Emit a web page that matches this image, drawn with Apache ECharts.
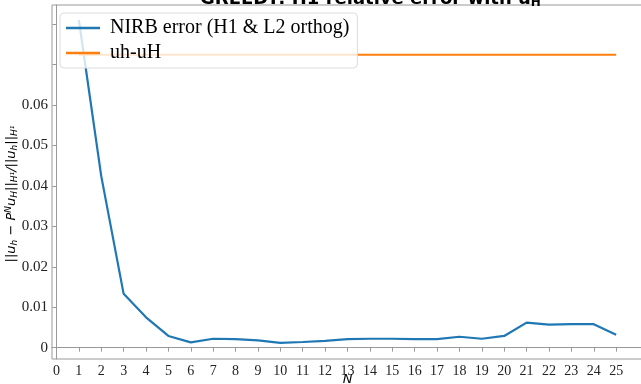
<!DOCTYPE html>
<html>
<head>
<meta charset="utf-8">
<script src="https://cdn.jsdelivr.net/npm/echarts@6/dist/echarts.min.js"></script>
<style>
html, body { margin: 0; padding: 0; background: #fff; }
#chart { width: 641px; height: 384px; }
</style>
</head>
<body>
<div id="chart"></div>
<script>
// basis size N
let nValues = [1, 2, 3, 4, 5, 6, 7, 8, 9, 10, 11, 12, 13, 14, 15, 16, 17, 18, 19, 20, 21, 22, 23, 24, 25];
// NIRB error (H1 & L2 orthog)
let nirbError = [0.0810, 0.0424, 0.0133, 0.0075, 0.0029, 0.0013, 0.0022, 0.0021, 0.0018, 0.0012,
                 0.0014, 0.0017, 0.0021, 0.0022, 0.0022, 0.0021, 0.0021, 0.0027, 0.0022, 0.0029,
                 0.0062, 0.0057, 0.0058, 0.0058, 0.0032];
// uh-uH reference error
let uhuH = [0.0724, 0.0724, 0.0724, 0.0724, 0.0724, 0.0724, 0.0724, 0.0724, 0.0724, 0.0724,
            0.0724, 0.0724, 0.0724, 0.0724, 0.0724, 0.0724, 0.0724, 0.0724, 0.0724, 0.0724,
            0.0724, 0.0724, 0.0724, 0.0724, 0.0724];
let xTicks = [0, 1, 2, 3, 4, 5, 6, 7, 8, 9, 10, 11, 12, 13, 14, 15, 16, 17, 18, 19, 20, 21, 22, 23, 24, 25];
let yTicks = [0, 0.01, 0.02, 0.03, 0.04, 0.05, 0.06, 0.07, 0.08];
let yLabels = [0, 0.01, 0.02, 0.03, 0.04, 0.05, 0.06];

let colors = ['#1f77b4', '#ff7f0e'];
let serif = 'Liberation Serif';

let myChart = echarts.init(document.getElementById('chart'));
let option = {
    animation: false,
    backgroundColor: '#fff',
    color: colors,
    title: {
        text: 'GREEDY: H1 relative error with u{s|H}',
        left: 200,
        top: -11,
        padding: 0,
        textStyle: {
            fontFamily: 'DejaVu Sans',
            fontWeight: 'bold',
            fontSize: 18,
            color: '#000',
            rich: {
                s: { fontFamily: 'DejaVu Sans', fontWeight: 'bold', fontSize: 12, padding: [8, 0, 0, 0], color: '#000' }
            }
        }
    },
    legend: {
        orient: 'vertical',
        left: 60,
        top: 13,
        padding: [5, 8, 5, 6],
        itemGap: 5,
        itemWidth: 34,
        itemHeight: 2.5,
        backgroundColor: 'rgba(255,255,255,0.8)',
        borderColor: '#dcdcdc',
        borderWidth: 1,
        borderRadius: 4,
        textStyle: { fontFamily: serif, fontSize: 20, color: '#000', padding: [0, 0, 0, 5] },
        data: [
            { name: 'NIRB error (H1 & L2 orthog)', icon: 'rect' },
            { name: 'uh-uH', icon: 'rect' }
        ]
    },
    grid: {
        left: 52,
        top: 5,
        width: 591,
        height: 354,
        containLabel: false,
        outerBoundsMode: 'none',
        show: true,
        borderColor: '#999',
        borderWidth: 1
    },
    xAxis: {
        type: 'value',
        min: -0.2,
        max: 26.2,
        name: 'N',
        nameLocation: 'middle',
        nameGap: 14,
        nameMoveOverlap: false,
        nameTextStyle: { fontFamily: 'DejaVu Sans', fontStyle: 'italic', fontSize: 13, color: '#000' },
        axisLine: { show: true, lineStyle: { color: '#999' } },
        axisTick: { show: true, length: 4, customValues: xTicks, lineStyle: { color: '#999' } },
        axisLabel: { customValues: xTicks, margin: 5, fontFamily: serif, fontSize: 14, color: '#222', hideOverlap: false },
        splitLine: { show: false }
    },
    yAxis: {
        type: 'value',
        min: -0.0028,
        max: 0.0847,
        name: '||u{s|h} − P{p|N}u{s|H}||{s|H¹}/||u{s|h}||{s|H¹}',
        nameLocation: 'middle',
        nameGap: 33,
        nameRotate: 90,
        nameMoveOverlap: false,
        nameTextStyle: {
            fontFamily: 'DejaVu Sans',
            fontStyle: 'italic',
            fontSize: 13,
            color: '#000',
            padding: [0, 24, 0, 0],
            rich: {
                s: { fontFamily: 'DejaVu Sans', fontStyle: 'italic', fontSize: 9, padding: [6, 0, 0, 0], color: '#000' },
                p: { fontFamily: 'DejaVu Sans', fontStyle: 'italic', fontSize: 9, padding: [0, 0, 6, 0], color: '#000' }
            }
        },
        axisLine: { show: true, lineStyle: { color: '#999' } },
        axisTick: { show: true, length: 4, customValues: yTicks, lineStyle: { color: '#999' } },
        axisLabel: { customValues: yLabels, margin: 4, fontFamily: serif, fontSize: 15, color: '#222' },
        splitLine: { show: false }
    },
    series: [
        {
            name: 'NIRB error (H1 & L2 orthog)',
            type: 'line',
            showSymbol: false,
            symbol: 'none',
            lineStyle: { width: 2.2 },
            data: nValues.map((n, i) => [n, nirbError[i]])
        },
        {
            name: 'uh-uH',
            type: 'line',
            showSymbol: false,
            symbol: 'none',
            lineStyle: { width: 2.2 },
            data: nValues.map((n, i) => [n, uhuH[i]])
        }
    ]
};
myChart.setOption(option);
</script>
</body>
</html>
